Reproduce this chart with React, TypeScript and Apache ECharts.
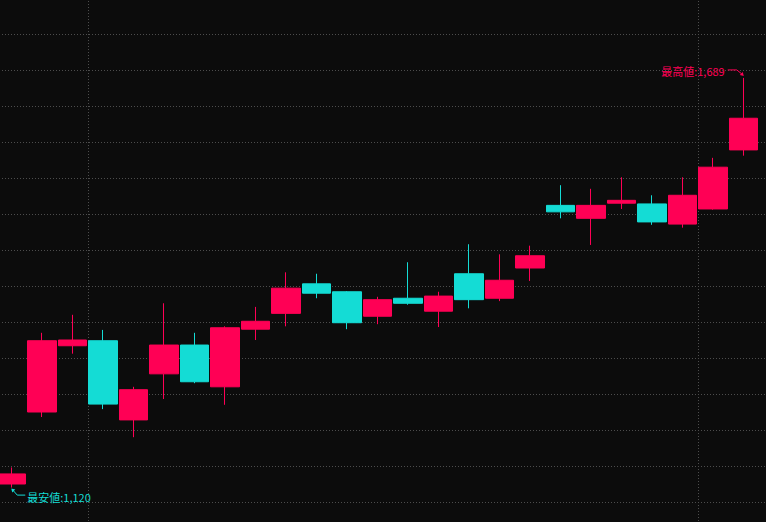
import React, { useEffect, useRef } from "react";
import * as echarts from "echarts";

// ---- data ----
const dates = [
  "2025/02/26", "2025/02/27", "2025/02/28",
  "2025/03/03", "2025/03/04", "2025/03/05", "2025/03/06", "2025/03/07",
  "2025/03/10", "2025/03/11", "2025/03/12", "2025/03/13", "2025/03/14",
  "2025/03/17", "2025/03/18", "2025/03/19", "2025/03/21", "2025/03/24",
  "2025/03/25", "2025/03/26", "2025/03/27", "2025/03/28", "2025/03/31",
  "2025/04/01", "2025/04/02",
];
const opens = [1125, 1225, 1317, 1324, 1214, 1278, 1318, 1260, 1340, 1362, 1403, 1392, 1358, 1383, 1365, 1417, 1383, 1425, 1512, 1494, 1515, 1514, 1486, 1507, 1589];
const closes = [1139, 1324, 1325, 1236, 1256, 1318, 1267, 1342, 1351, 1397, 1390, 1349, 1381, 1376, 1386, 1381, 1408, 1442, 1503, 1512, 1519, 1489, 1526, 1565, 1633];
const lows = [1120, 1218, 1306, 1229, 1190, 1243, 1265, 1235, 1325, 1344, 1383, 1340, 1347, 1374, 1343, 1369, 1379, 1407, 1494, 1457, 1507, 1485, 1481, 1506, 1581];
const highs = [1148, 1335, 1360, 1339, 1260, 1376, 1335, 1344, 1371, 1419, 1417, 1393, 1385, 1433, 1392, 1458, 1444, 1456, 1540, 1535, 1551, 1526, 1551, 1578, 1689];

const Y_MIN = 1050;
const Y_MAX = 1800;
const Y_STEP = 50;

const UP = "#ff0055";
const DOWN = "#14dcd5";
const BG = "#0c0c0c";
const GRID = "#4d4d4d";
const FONT = "'Noto Sans CJK JP', 'Noto Sans', sans-serif";

export default function App() {
  const ref = useRef<HTMLDivElement>(null);

  useEffect(() => {
    document.body.style.margin = "0";
    document.body.style.background = BG;
    if (!ref.current) return;
    const chart = echarts.init(ref.current, null, { renderer: "svg" });
    const candles = dates.map((_, i) => [opens[i], closes[i], lows[i], highs[i]]);
    const monthOf = (d: string) => d.slice(0, 7);
    const monthStarts = dates
      .map((d, i) => (i > 0 && monthOf(d) !== monthOf(dates[i - 1]) ? i : -1))
      .filter((i) => i >= 0)
      .map((i) => [i]);

    const hiddenAxis = {
      axisLine: { show: false },
      axisTick: { show: false },
      axisLabel: { show: false },
    };

    chart.setOption({
      animation: false,
      backgroundColor: BG,
      grid: [
        { left: 0, right: 0, top: 0, bottom: 0, containLabel: false },
        { left: 0, right: 7, top: 0, bottom: 0, containLabel: false },
      ],
      xAxis: [
        { type: "value", gridIndex: 0, min: 0, max: 1, splitLine: { show: false }, ...hiddenAxis },
        {
          type: "category",
          gridIndex: 1,
          data: dates,
          boundaryGap: true,
          splitLine: { show: false },
          ...hiddenAxis,
        },
      ],
      yAxis: [
        {
          type: "value",
          gridIndex: 0,
          min: Y_MIN,
          max: Y_MAX,
          interval: Y_STEP,
          ...hiddenAxis,
          splitLine: { show: true, lineStyle: { color: GRID, type: [1, 2], width: 1 } },
        },
        {
          type: "value",
          gridIndex: 1,
          min: Y_MIN,
          max: Y_MAX,
          interval: Y_STEP,
          ...hiddenAxis,
          splitLine: { show: false },
        },
      ],
      series: [
        {
          type: "custom",
          xAxisIndex: 1,
          yAxisIndex: 1,
          data: monthStarts,
          z: 1,
          silent: true,
          renderItem: (params: any, api: any) => {
            const idx = api.value(0);
            const c = api.coord([idx, Y_MAX]);
            const bw = api.size([1, 0])[0];
            const x = Math.round(c[0] - bw / 2) + 0.5;
            const cs = params.coordSys;
            return {
              type: "line",
              shape: { x1: x, y1: cs.y, x2: x, y2: cs.y + cs.height },
              style: { stroke: GRID, lineWidth: 1, lineDash: [1, 2] },
            };
          },
        },
        {
          type: "candlestick",
          xAxisIndex: 1,
          yAxisIndex: 1,
          data: candles,
          barWidth: 29,
          z: 2,
          itemStyle: {
            color: UP,
            color0: DOWN,
            borderColor: UP,
            borderColor0: DOWN,
            borderWidth: 1,
          },
        },
      ],
    });

    const hiIdx = highs.indexOf(Math.max(...highs));
    const loIdx = lows.indexOf(Math.min(...lows));
    const hp = chart.convertToPixel({ seriesIndex: 1 }, [hiIdx, highs[hiIdx]]) as number[];
    const lp = chart.convertToPixel({ seriesIndex: 1 }, [loIdx, lows[loIdx]]) as number[];
    const fmt = (v: number) => v.toLocaleString("en-US");
    const [hx, hy] = hp;
    const [lx, ly] = lp;

    chart.setOption({
      graphic: [
        {
          type: "text",
          x: hx - 19,
          y: hy - 6.5,
          style: {
            text: "最高値:" + fmt(highs[hiIdx]),
            fill: UP,
            font: `11px ${FONT}`,
            align: "right",
            verticalAlign: "middle",
          },
        },
        {
          type: "polyline",
          shape: { points: [[hx - 16, hy - 8], [hx - 7, hy - 8], [hx - 2, hy - 4]] },
          style: { stroke: UP, lineWidth: 1, fill: "none" },
        },
        {
          type: "polygon",
          shape: { points: [[hx, hy - 2], [hx - 4, hy - 3], [hx - 1, hy - 6]] },
          style: { fill: UP },
        },
        {
          type: "text",
          x: lx + 16,
          y: ly + 9.5,
          style: {
            text: "最安値:" + fmt(lows[loIdx]),
            fill: DOWN,
            font: `11px ${FONT}`,
            align: "left",
            verticalAlign: "middle",
          },
        },
        {
          type: "polyline",
          shape: { points: [[lx + 2, ly + 3], [lx + 6, ly + 7.5], [lx + 14, ly + 7.5]] },
          style: { stroke: DOWN, lineWidth: 1, fill: "none" },
        },
        {
          type: "polygon",
          shape: { points: [[lx, ly + 1], [lx + 4, ly + 2], [lx + 1, ly + 5]] },
          style: { fill: DOWN },
        },
      ],
    });

    return () => chart.dispose();
  }, []);

  // The plotting area starts slightly left of and above the visible window,
  // so the container is offset to reproduce the reference's framing.
  return (
    <div
      ref={ref}
      style={{ position: "fixed", left: -4, top: -2, width: 770, height: 540, background: BG }}
    />
  );
}
